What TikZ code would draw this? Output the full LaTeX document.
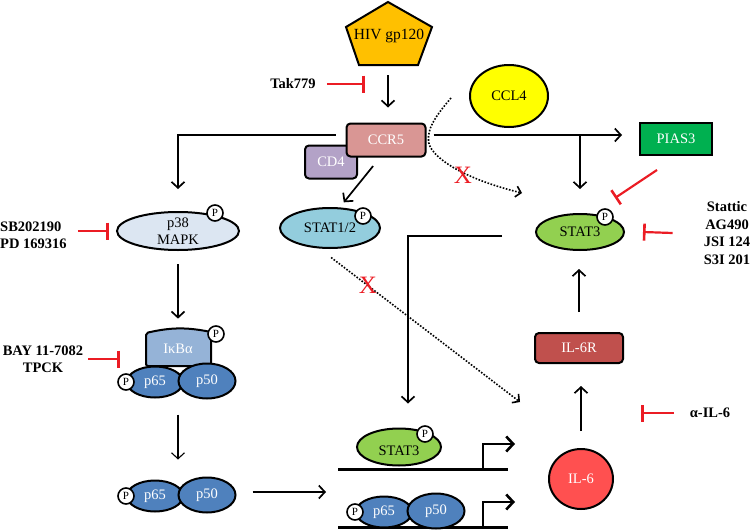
\documentclass[tikz,border=0pt]{standalone}
\usepackage{fontspec}
\setmainfont{Liberation Serif}
\usetikzlibrary{arrows.meta,shapes.geometric}
\definecolor{hivcol}{RGB}{255,192,0}
\definecolor{ccrcol}{RGB}{217,150,148}
\definecolor{cdcol}{RGB}{179,162,199}
\definecolor{ccl4col}{RGB}{255,255,0}
\definecolor{statonecol}{RGB}{147,205,221}
\definecolor{p38col}{RGB}{220,230,242}
\definecolor{ikbcol}{RGB}{149,179,215}
\definecolor{nfkbcol}{RGB}{79,129,189}
\definecolor{statcol}{RGB}{146,208,80}
\definecolor{piascol}{RGB}{0,176,80}
\definecolor{ilrcol}{RGB}{192,80,77}
\definecolor{ilcol}{RGB}{255,80,80}
\definecolor{inhred}{RGB}{235,28,36}

\begin{document}
\begin{tikzpicture}[x=1pt, y=-1pt,
      font=\fontsize{14.5}{17}\selectfont,
      box/.style={draw, line width=2pt, rounded corners=4pt, text=white, inner sep=0pt},
      blob/.style={ellipse, draw, line width=2pt, inner sep=0pt},
      phos/.style={circle, draw, fill=white, line width=1.6pt, inner sep=0pt, minimum size=16pt, font=\fontsize{11}{11}\selectfont},
      drug/.style={font=\bfseries\fontsize{14.5}{17.5}\selectfont, align=center, inner sep=2pt},
      arr/.style={-{Straight Barb[length=6pt,width=13pt]}, line width=1.7pt},
      inh/.style={-{Bar[width=17pt,line width=2.6pt]}, line width=2.2pt, inhred},
      blocked/.style={dash pattern=on 1.6pt off 1.6pt, line width=1.6pt, -{Straight Barb[length=5pt,width=11pt]}},
      cross/.style={text=inhred, font=\fontsize{25}{25}\selectfont, inner sep=0pt},
      dna/.style={line width=3pt},
      promoter/.style={line width=2.6pt, -{Straight Barb[length=7pt,width=15pt]}}
    ]
      \useasboundingbox (0,0) rectangle (750,530);

      % Virus and receptors
      \draw[fill=hivcol, line width=2pt] (388,2) -- (432,27) -- (418,65) -- (359,65) -- (346,27) -- cycle;
      \node[font=\fontsize{15.5}{17}\selectfont] (hiv) at (389,36) {HIV gp120};
      \coordinate (hivbase) at (388,65);
      \node[box, fill=cdcol, minimum width=52pt, minimum height=33pt] (cd4) at (331,162) {CD4};
      \node[box, fill=ccrcol, minimum width=79pt, minimum height=33pt] (ccr5) at (386,140) {CCR5};
      \node[blob, fill=ccl4col, minimum width=78pt, minimum height=62pt] (ccl4) at (509,96) {CCL4};
      \draw[arr, shorten <=10pt, shorten >=15pt] (hivbase) -- (hivbase |- ccr5.north);

      \node[drug] (tak) at (293,84) {Tak779};
      \coordinate (takbar) at (365,84);
      \draw[inh] ([xshift=9pt]tak.east) -- (takbar);

      % Cytoplasm: p38 and NF-kB
      \node[blob, fill=p38col, minimum width=122pt, minimum height=38pt] (p38) at (178,231) {};
      \node[align=center] at (p38) {p38\\MAPK};
      \node[phos] at (215,213) {P};
      \node[drug, align=left, anchor=west, inner sep=0pt] (sb) at (0,235) {SB202190\\PD 169316};
      \draw[inh] ([xshift=11pt,yshift=4pt]sb.east) -- ([xshift=-7pt]p38.west);

      \draw[fill=ikbcol, line width=2pt, rounded corners=2pt] (146,366) -- (146,333) to[bend left=12] (211,332) -- (211,366) -- cycle;
      \node[text=white] (ikb) at (178,349) {IκBα};
      \node[phos] at (216,334) {P};
      \foreach \y in {469,527} {
        \draw[dna] (338,\y) -- (508,\y);
        \draw[promoter] (483,\y) |- (515,{\y-25});
      }
      \foreach \px/\py/\id in {155/382/a, 155/496/b, 384/512/c} {
        \node[blob, fill=nfkbcol, text=white, minimum width=56pt, minimum height=31pt] (p65\id) at (\px,\py) {p65};
        \node[blob, fill=nfkbcol, text=white, minimum width=57pt, minimum height=35pt] (p50\id) at (\px+52,\py-1) {p50};
        \node[phos] at (\px-29,\py) {P};
      }
      \node[drug] (bay) at (43,359) {BAY 11-7082\\TPCK};
      \coordinate (baybar) at (120,359);
      \draw[inh] ([xshift=3pt]bay.east) -- (baybar);

      \draw[arr, shorten <=13pt, shorten >=22pt] (p38.south) -- (p38.south |- ikb.north);
      \draw[arr, line width=1.1pt, shorten <=16pt, shorten >=20pt] (ikb.south |- p65a.south) -- (ikb.south |- p65b.north);
      \draw[arr, shorten <=16pt, shorten >=29pt] ([yshift=3pt]p50b.east) -- ([yshift=3pt]p50b.east -| p65c.west);

      % Membrane signals
      \coordinate (memL) at ([xshift=-10pt,yshift=5pt]ccr5.west);
      \coordinate (memR) at ([xshift=7pt,yshift=5pt]ccr5.east);
      \draw[arr, shorten >=22pt] (memL) -| (p38.north);

      \node[blob, fill=statonecol, minimum width=100pt, minimum height=40pt] (stat12) at (330,228) {STAT1/2};
      \node[phos] at (363,216) {P};
      \draw[arr, shorten <=11pt, shorten >=6pt] ([xshift=-6pt]ccr5.south) -- ([xshift=10pt]stat12.north);

      \node[blob, fill=statcol, minimum width=88pt, minimum height=36pt] (stat3r) at (580,232) {STAT3};
      \node[phos] at (605,217) {P};
      \node[box, rounded corners=0pt, fill=piascol, minimum width=72pt, minimum height=32pt] (pias3) at (676,139) {PIAS3};
      \draw[arr, shorten >=17pt] (memR) -- (memR -| pias3.west);
      \draw[arr, shorten >=24pt] (memR -| stat3r.north) -- (stat3r.north);
      \coordinate (piasbar) at (615,198);
      \draw[inh] ([shift={(-19pt,-14pt)}]pias3.south) -- (piasbar);

      \node[drug] (stattic) at (727,233) {Stattic\\AG490\\JSI 124\\S3I 201};
      \draw[inh] ([xshift=-29pt]stattic.west) -- ([xshift=18pt]stat3r.east);

      % Blocked routes
      \coordinate (stat3in) at (522,193);
      \coordinate (il6in) at (520,402);
      \draw[blocked] ([xshift=-18pt,yshift=-2pt]ccl4.west) .. controls (432,120) and (428,130) .. ([xshift=2pt]ccr5.east) .. controls (428,155) and (460,178) .. (stat3in);
      \draw[blocked, shorten <=14pt] ([xshift=-10pt]stat12.south) -- (il6in);
      \node[cross] (xa) at (463,175) {X};
      \node[cross] (xb) at (368,285) {X};

      % IL-6 loop
      \node[blob, fill=statcol, minimum width=84pt, minimum height=37pt] (stat3d) at (399,447) {};
      \node at ([yshift=-4pt]stat3d.center) {STAT3};
      \node[phos] at (425,434) {P};
      \draw[arr, shorten >=24pt] ([xshift=-33pt,yshift=-4pt]stat3r.west) -| ([xshift=9pt]stat3d.north);

      \node[box, fill=ilrcol, minimum width=88pt, minimum height=30pt] (il6r) at (579,348) {IL-6R};
      \node[blob, fill=ilcol, text=white, minimum width=64pt, minimum height=60pt] (il6) at (581,479) {IL-6};
      \draw[arr, shorten <=17pt, shorten >=22pt] (il6.north) -- (il6.north |- il6r.south);
      \draw[arr, shorten <=20pt, shorten >=18pt] (il6r.north) -- (il6r.north |- stat3r.south);

      \node[drug] (anti) at (710,413) {α-IL-6};
      \coordinate (antibar) at (641,413);
      \draw[inh] ([xshift=-14pt]anti.west) -- (antibar);
    \end{tikzpicture}
\end{document}
